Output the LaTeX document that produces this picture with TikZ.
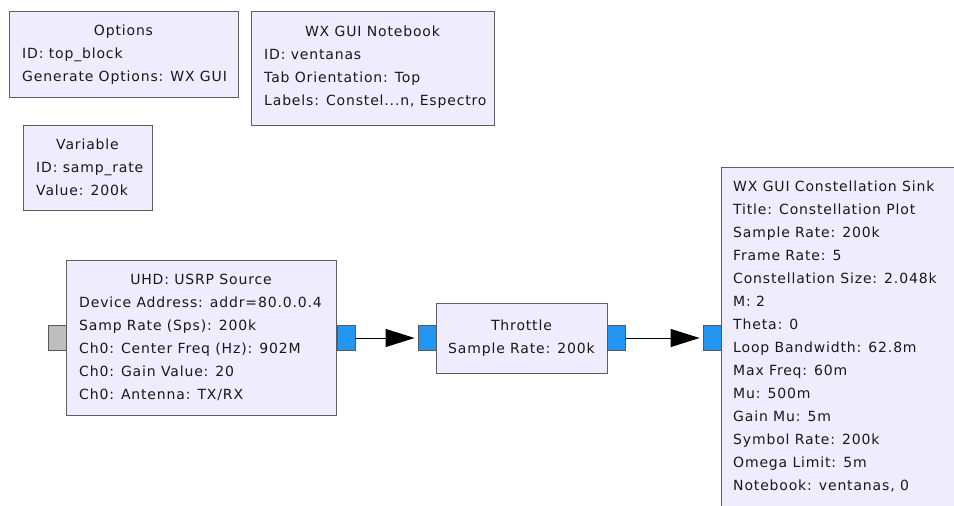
\documentclass[tikz,border=0pt]{standalone}
\usepackage{fontspec}
\setmainfont[LetterSpace=6]{DejaVu Sans}
\usetikzlibrary{positioning,arrows.meta}
\definecolor{blockfill}{RGB}{239,236,254}
\definecolor{blockline}{RGB}{95,95,95}
\definecolor{portblue}{RGB}{33,150,243}
\definecolor{portgray}{RGB}{190,190,190}
\newcommand{\elide}{...}
\tikzset{
  block/.style={draw=blockline, fill=blockfill, line width=1.3pt, anchor=north west, inner sep=0pt},
  port/.style={draw=black!65, line width=0.8pt, minimum width=18pt, minimum height=25pt, inner sep=0pt},
  blkname/.style={anchor=base, inner sep=0pt, text=black!90, font=\fontsize{14}{23}\selectfont},
  param/.style={anchor=base west, inner sep=0pt, text=black!90, font=\fontsize{14}{23}\selectfont},
  flow/.style={line width=1pt, -{Triangle[length=29pt,width=18pt]}, shorten >=3pt}
}

\begin{document}
\begin{tikzpicture}[x=1pt,y=-1pt]
    \useasboundingbox (0,0) rectangle (954,506);
    \clip (0,0) rectangle (954,506);
    % options block
    \node[block, minimum width=229pt, minimum height=86pt] (opts) at (9,11) {};
    \node[blkname] (opts-t) at (123.5,35) {Options};
    \foreach \txt [count=\i] in {ID: top\_block, Generate Options: WX GUI}
        \node[param] (opts-\i) at (22,35+23*\i) {\txt};
    % notebook
    \node[block, minimum width=243pt, minimum height=114pt] (nbook) at (251,11) {};
    \node[blkname] (nbook-t) at (372.5,36) {WX GUI Notebook};
    \foreach \txt [count=\i] in {ID: ventanas, Tab Orientation: Top, {Labels: Constel\elide n, Espectro}}
        \node[param] (nbook-\i) at (264,36+23*\i) {\txt};
    % variable
    \node[block, minimum width=129pt, minimum height=85pt] (var) at (23,125) {};
    \node[blkname] (var-t) at (87.5,149) {Variable};
    \foreach \txt [count=\i] in {ID: samp\_rate, Value: 200k}
        \node[param] (var-\i) at (36,149+23*\i) {\txt};
    % usrp source
    \node[block, minimum width=270pt, minimum height=155pt] (usrp) at (66,260) {};
    \node[blkname] (usrp-t) at (201,284) {UHD: USRP Source};
    \foreach \txt [count=\i] in {Device Address: addr=80.0.0.4, Samp Rate (Sps): 200k,
            Ch0: Center Freq (Hz): 902M, Ch0: Gain Value: 20, Ch0: Antenna: TX/RX}
        \node[param] (usrp-\i) at (79,284+23*\i) {\txt};
    \node[port, fill=portgray] (usrp-in) at (57,338) {};
    \node[port, fill=portblue] (usrp-out) at (346,338) {};
    % throttle
    \node[block, minimum width=171pt, minimum height=70pt] (thr) at (436,303) {};
    \node[blkname] (thr-t) at (521.5,330) {Throttle};
    \node[blkname] (thr-1) at (521.5,353) {Sample Rate: 200k};
    \node[port, fill=portblue] (thr-in) at (427,338) {};
    \node[port, fill=portblue] (thr-out) at (616,338) {};
    % constellation sink
    \node[block, minimum width=260pt, minimum height=360pt] (sink) at (721,167) {};
    \foreach \txt [count=\i from 0] in {WX GUI Constellation Sink, Title: Constellation Plot,
            Sample Rate: 200k, Frame Rate: 5, Constellation Size: 2.048k, M: 2, Theta: 0,
            Loop Bandwidth: 62.8m, Max Freq: 60m, Mu: 500m, Gain Mu: 5m,
            Symbol Rate: 200k, Omega Limit: 5m, {Notebook: ventanas, 0}}
        \node[param] (sink-\i) at (733,191+23*\i) {\txt};
    \node[port, fill=portblue] (sink-in) at (712,338) {};
    % connections
    \draw[flow] (usrp-out) -- (thr-in);
    \draw[flow] (thr-out) -- (sink-in);
\end{tikzpicture}
\end{document}
